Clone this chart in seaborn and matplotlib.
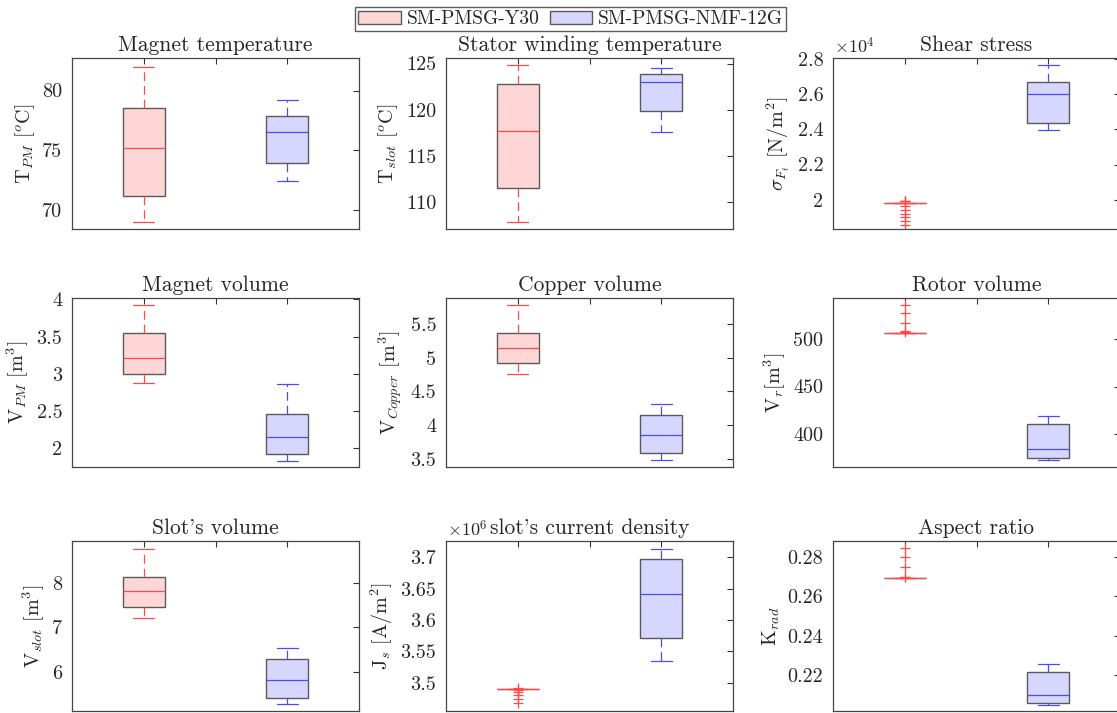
import matplotlib
matplotlib.use("Agg")
import matplotlib.pyplot as plt
import numpy as np
import pandas as pd
import seaborn as sns
from matplotlib.patches import Patch
from matplotlib.ticker import FuncFormatter

# ---------------- data ----------------
machines = ["SM-PMSG-Y30", "SM-PMSG-NMF-12G"]

titles = ["Magnet temperature", "Stator winding temperature", "Shear stress",
          "Magnet volume", "Copper volume", "Rotor volume",
          "Slot's volume", "slot's current density", "Aspect ratio"]

ylabels = [r"$\mathrm{T}_{PM}$ $[^{o}\mathrm{C}]$",
           r"$\mathrm{T}_{slot}$ $[^{o}\mathrm{C}]$",
           r"$\sigma_{F_t}$ $[\mathrm{N/m}^2]$",
           r"$\mathrm{V}_{PM}$ $[\mathrm{m}^3]$",
           r"$\mathrm{V}_{Copper}$ $[\mathrm{m}^3]$",
           r"$\mathrm{V}_r[\mathrm{m}^3]$",
           r"$\mathrm{V}_{slot}$ $[\mathrm{m}^3]$",
           r"$\mathrm{J}_s$ $[\mathrm{A/m}^2]$",
           r"$\mathrm{K}_{rad}$"]

# samples per machine (min, q1, median, q3, max, or plateau + outliers)
t_pm_y30 = [69.0, 71.15, 75.2, 78.55, 82.0]
t_pm_nmf = [72.4, 73.9, 76.5, 77.9, 79.2]

t_slot_y30 = [107.8, 111.5, 117.7, 122.75, 124.8]
t_slot_nmf = [117.55, 119.85, 123.05, 123.9, 124.55]

shear_y30 = [19790, 19790, 19790, 19790, 19790, 19790, 19790, 19790,
             19790, 19790, 19790, 19790, 19790, 19790, 19790, 19790,
             19950, 19930, 19900, 19650, 19400, 19200, 19020, 18770, 18580]
shear_nmf = [23940, 24340, 26000, 26720, 27670]

v_pm_y30 = [2.87, 3.0, 3.21, 3.55, 3.92]
v_pm_nmf = [1.83, 1.92, 2.147, 2.46, 2.865]

v_cu_y30 = [4.757, 4.915, 5.148, 5.362, 5.777]
v_cu_nmf = [3.48, 3.578, 3.852, 4.148, 4.31]

v_rot_y30 = [506.3, 506.3, 506.3, 506.3, 506.3, 506.3, 506.3, 506.3,
             506.3, 506.3, 506.3, 506.3, 506.3, 506.3, 506.3, 506.3,
             507.5, 508.5, 517.6, 527.4, 535.8]
v_rot_nmf = [371.9, 374.7, 383.9, 410.0, 419.3]

v_slot_y30 = [7.22, 7.46, 7.82, 8.125, 8.76]
v_slot_nmf = [5.285, 5.41, 5.83, 6.285, 6.545]

j_s_y30 = [3.4904e6, 3.4904e6, 3.4904e6, 3.4904e6, 3.4904e6, 3.4904e6,
           3.4904e6, 3.4904e6, 3.4904e6, 3.4904e6, 3.4904e6, 3.4904e6,
           3.4904e6, 3.4904e6, 3.4904e6,
           3.4915e6, 3.4885e6, 3.4845e6, 3.4800e6, 3.4745e6, 3.4675e6]
j_s_nmf = [3.535e6, 3.571e6, 3.641e6, 3.698e6, 3.714e6]

k_rad_y30 = [0.2693, 0.2693, 0.2693, 0.2693, 0.2693, 0.2693, 0.2693, 0.2693,
             0.2693, 0.2693, 0.2693, 0.2693, 0.2693, 0.2693, 0.2693, 0.2693,
             0.2697, 0.2700, 0.2748, 0.2800, 0.2845]
k_rad_nmf = [0.2048, 0.2058, 0.2099, 0.2217, 0.2255]

series = [(t_pm_y30, t_pm_nmf), (t_slot_y30, t_slot_nmf), (shear_y30, shear_nmf),
          (v_pm_y30, v_pm_nmf), (v_cu_y30, v_cu_nmf), (v_rot_y30, v_rot_nmf),
          (v_slot_y30, v_slot_nmf), (j_s_y30, j_s_nmf), (k_rad_y30, k_rad_nmf)]

ylims = [(68.42, 82.72), (107.05, 125.6), (18330, 28060),
         (1.745, 4.02), (3.377, 5.885), (365, 543.5),
         (5.13, 8.93), (3.4546e6, 3.726e6), (0.2016, 0.2883)]

yticks = [[70, 75, 80], [110, 115, 120, 125],
          [20000, 22000, 24000, 26000, 28000],
          [2, 2.5, 3, 3.5, 4], [3.5, 4, 4.5, 5, 5.5], [400, 450, 500],
          [6, 7, 8], [3.5e6, 3.55e6, 3.6e6, 3.65e6, 3.7e6],
          [0.22, 0.24, 0.26, 0.28]]

scales = [1, 1, 1e4, 1, 1, 1, 1, 1e6, 1]
offset_texts = [None, None, r"$\times10^4$", None, None, None, None, r"$\times10^6$", None]

# ---------------- style ----------------
sns.set_theme(style="white")
plt.rcParams.update({
    "font.family": ["cmr10"],
    "mathtext.fontset": "cm",
    "axes.formatter.use_mathtext": True,
    "axes.unicode_minus": False,
})

RED = "#ff4a4a"
BLUE = "#4a4aff"
RED_FILL = "#ffd6d6"
BLUE_FILL = "#d6d6ff"
EDGE = "#5a5a5a"
FS = 14.5

fig = plt.figure(figsize=(11.17, 7.13), dpi=100)
W, H = 1117.0, 713.0
col_x = [72, 446, 833]
col_w = 287
rows = [(58, 229), (298, 467), (541, 711)]

for i in range(9):
    r, c = divmod(i, 3)
    top, bot = rows[r]
    ax = fig.add_axes([col_x[c] / W, 1 - bot / H, col_w / W, (bot - top) / H])
    y30, nmf = series[i]
    for name, vals, lc, fc in [(machines[0], y30, RED, RED_FILL),
                               (machines[1], nmf, BLUE, BLUE_FILL)]:
        sub = pd.DataFrame({"machine": [name] * len(vals), "value": vals})
        sns.boxplot(data=sub, x="machine", y="value", order=machines, ax=ax,
                    width=0.29, color=fc, saturation=1, linecolor=EDGE,
                    linewidth=1.0, whis=1.5,
                    boxprops=dict(facecolor=fc, edgecolor=EDGE, linewidth=1.0),
                    whiskerprops=dict(color=lc, linestyle=(0, (7, 4)), linewidth=0.9),
                    capprops=dict(color=lc, linewidth=0.9),
                    medianprops=dict(color=lc, linewidth=0.9),
                    flierprops=dict(marker="+", markeredgecolor=lc, markerfacecolor=lc,
                                    markersize=6.5, markeredgewidth=0.9))
    ax.set_xlim(-0.5, 1.5)
    ax.set_xticks([0, 0.5, 1])
    ax.set_xticklabels([])
    ax.set_xlabel("")
    ax.set_ylim(*ylims[i])
    ax.set_yticks(yticks[i])
    s = scales[i]
    ax.yaxis.set_major_formatter(FuncFormatter(lambda v, p, s=s: f"{v / s:g}"))
    ax.tick_params(direction="in", length=4, width=0.8, top=True, right=True,
                   labelsize=FS, color="#333333", pad=7)
    for sp in ax.spines.values():
        sp.set_color("#444444")
        sp.set_linewidth(0.9)
    ax.set_title(titles[i], fontsize=15.5, pad=5)
    ax.set_ylabel(ylabels[i], fontsize=FS, labelpad=4)
    if offset_texts[i]:
        ax.text(0.005, 1.01, offset_texts[i], transform=ax.transAxes,
                ha="left", va="bottom", fontsize=13)

handles = [Patch(facecolor=RED_FILL, edgecolor=EDGE, label=machines[0]),
           Patch(facecolor=BLUE_FILL, edgecolor=EDGE, label=machines[1])]
fig.legend(handles=handles, loc="center", bbox_to_anchor=(0.511, 0.973), ncol=2,
           fontsize=14, frameon=True, fancybox=False, edgecolor="#333333",
           borderpad=0.15, handlelength=2.2, handleheight=0.7,
           handletextpad=0.3, columnspacing=0.5, borderaxespad=0)

fig.savefig("out.png", dpi=100)
